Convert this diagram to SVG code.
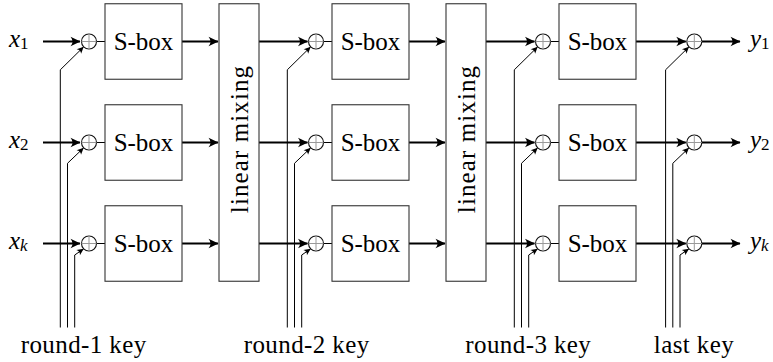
<svg xmlns="http://www.w3.org/2000/svg" width="773" height="362" viewBox="0 0 773 362">
<style>
  .box { fill: #fff; stroke: #333; stroke-width: 1.1; }
  .xor { fill: #fff; stroke: #111; stroke-width: 1.1; }
  .plus { stroke: #999; stroke-width: 1; }
  .thick { fill: none; stroke: #000; stroke-width: 1.9; }
  .thin { fill: none; stroke: #000; stroke-width: 1; }
</style>
<defs>
  <marker id="ah" markerUnits="userSpaceOnUse" markerWidth="14" markerHeight="12" viewBox="-11 -6 14 12" refX="0" refY="0" orient="auto" overflow="visible">
    <path d="M0.5,0 L-9.5,-4.8 Q-5.5,0 -9.5,4.8 Z" fill="#000" stroke="none"/>
  </marker>
  <marker id="ahs" markerUnits="userSpaceOnUse" markerWidth="10" markerHeight="8" viewBox="-7 -4 10 8" refX="0" refY="0" orient="auto" overflow="visible">
    <path d="M0.3,0 L-6.5,-3.2 Q-3.8,0 -6.5,3.2 Z" fill="#000" stroke="none"/>
  </marker>
</defs>

<g id="connectors">
  <path class="thick" d="M43,41.5 H80" marker-end="url(#ah)"/>
  <path class="thick" d="M43,142.5 H80" marker-end="url(#ah)"/>
  <path class="thick" d="M43,243.5 H80" marker-end="url(#ah)"/>
  <path class="thin" d="M96.5,41.5 H105 M96.5,142.5 H105 M96.5,243.5 H105"/>
  <path class="thin" d="M323.5,41.5 H332 M323.5,142.5 H332 M323.5,243.5 H332"/>
  <path class="thin" d="M550.5,41.5 H559 M550.5,142.5 H559 M550.5,243.5 H559"/>
  <path class="thick" d="M182,41.5 H218" marker-end="url(#ah)"/>
  <path class="thick" d="M182,142.5 H218" marker-end="url(#ah)"/>
  <path class="thick" d="M182,243.5 H218" marker-end="url(#ah)"/>
  <path class="thick" d="M259,41.5 H307.5" marker-end="url(#ah)"/>
  <path class="thick" d="M259,142.5 H307.5" marker-end="url(#ah)"/>
  <path class="thick" d="M259,243.5 H307.5" marker-end="url(#ah)"/>
  <path class="thick" d="M409,41.5 H445" marker-end="url(#ah)"/>
  <path class="thick" d="M409,142.5 H445" marker-end="url(#ah)"/>
  <path class="thick" d="M409,243.5 H445" marker-end="url(#ah)"/>
  <path class="thick" d="M486,41.5 H534.5" marker-end="url(#ah)"/>
  <path class="thick" d="M486,142.5 H534.5" marker-end="url(#ah)"/>
  <path class="thick" d="M486,243.5 H534.5" marker-end="url(#ah)"/>
  <path class="thick" d="M636,41.5 H685.8" marker-end="url(#ah)"/>
  <path class="thick" d="M636,142.5 H685.8" marker-end="url(#ah)"/>
  <path class="thick" d="M636,243.5 H685.8" marker-end="url(#ah)"/>
  <path class="thick" d="M701.8,41.5 H740" marker-end="url(#ah)"/>
  <path class="thick" d="M701.8,142.5 H740" marker-end="url(#ah)"/>
  <path class="thick" d="M701.8,243.5 H740" marker-end="url(#ah)"/>

  <path class="thin" d="M60.3,327.5 V69.8 L83.5,47" marker-end="url(#ahs)"/>
  <path class="thin" d="M67.5,327.5 V163.3 L83.5,148" marker-end="url(#ahs)"/>
  <path class="thin" d="M74.7,327.5 V255 L83.5,249" marker-end="url(#ahs)"/>
  <path class="thin" d="M287.3,327.5 V69.8 L310.5,47" marker-end="url(#ahs)"/>
  <path class="thin" d="M294.5,327.5 V163.3 L310.5,148" marker-end="url(#ahs)"/>
  <path class="thin" d="M301.7,327.5 V255 L310.5,249" marker-end="url(#ahs)"/>
  <path class="thin" d="M514.3,327.5 V69.8 L537.5,47" marker-end="url(#ahs)"/>
  <path class="thin" d="M521.5,327.5 V163.3 L537.5,148" marker-end="url(#ahs)"/>
  <path class="thin" d="M528.7,327.5 V255 L537.5,249" marker-end="url(#ahs)"/>
  <path class="thin" d="M665.6,327.5 V69.8 L688.8,47" marker-end="url(#ahs)"/>
  <path class="thin" d="M672.8,327.5 V163.3 L688.8,148" marker-end="url(#ahs)"/>
  <path class="thin" d="M680,327.5 V255 L688.8,249" marker-end="url(#ahs)"/>
</g>

<g id="xor-c1">
  <circle class="xor" cx="89" cy="41.5" r="7.5"/><path class="plus" d="M81.5,41.5 H96.5 M89,34 V49"/>
  <circle class="xor" cx="89" cy="142.5" r="7.5"/><path class="plus" d="M81.5,142.5 H96.5 M89,135 V150"/>
  <circle class="xor" cx="89" cy="243.5" r="7.5"/><path class="plus" d="M81.5,243.5 H96.5 M89,236 V251"/>
</g>
<g id="xor-c2">
  <circle class="xor" cx="316" cy="41.5" r="7.5"/><path class="plus" d="M308.5,41.5 H323.5 M316,34 V49"/>
  <circle class="xor" cx="316" cy="142.5" r="7.5"/><path class="plus" d="M308.5,142.5 H323.5 M316,135 V150"/>
  <circle class="xor" cx="316" cy="243.5" r="7.5"/><path class="plus" d="M308.5,243.5 H323.5 M316,236 V251"/>
</g>
<g id="xor-c3">
  <circle class="xor" cx="543" cy="41.5" r="7.5"/><path class="plus" d="M535.5,41.5 H550.5 M543,34 V49"/>
  <circle class="xor" cx="543" cy="142.5" r="7.5"/><path class="plus" d="M535.5,142.5 H550.5 M543,135 V150"/>
  <circle class="xor" cx="543" cy="243.5" r="7.5"/><path class="plus" d="M535.5,243.5 H550.5 M543,236 V251"/>
</g>
<g id="xor-last">
  <circle class="xor" cx="694.3" cy="41.5" r="7.5"/><path class="plus" d="M686.8,41.5 H701.8 M694.3,34 V49"/>
  <circle class="xor" cx="694.3" cy="142.5" r="7.5"/><path class="plus" d="M686.8,142.5 H701.8 M694.3,135 V150"/>
  <circle class="xor" cx="694.3" cy="243.5" r="7.5"/><path class="plus" d="M686.8,243.5 H701.8 M694.3,236 V251"/>
</g>

<g id="sbox-1-1"><rect class="box" x="105" y="3.75" width="77" height="75.5"/><text font-family="serif" font-size="25" x="143.5" y="50" text-anchor="middle">S-box</text></g>
<g id="sbox-1-2"><rect class="box" x="105" y="104.75" width="77" height="75.5"/><text font-family="serif" font-size="25" x="143.5" y="151" text-anchor="middle">S-box</text></g>
<g id="sbox-1-3"><rect class="box" x="105" y="205.75" width="77" height="75.5"/><text font-family="serif" font-size="25" x="143.5" y="252" text-anchor="middle">S-box</text></g>

<g id="mix-1"><rect class="box" x="219" y="3.75" width="40" height="277.5"/><text font-family="serif" font-size="25" letter-spacing="1.1" transform="translate(248,139) rotate(-90)" text-anchor="middle">linear mixing</text></g>

<g id="sbox-2-1"><rect class="box" x="332" y="3.75" width="77" height="75.5"/><text font-family="serif" font-size="25" x="370.5" y="50" text-anchor="middle">S-box</text></g>
<g id="sbox-2-2"><rect class="box" x="332" y="104.75" width="77" height="75.5"/><text font-family="serif" font-size="25" x="370.5" y="151" text-anchor="middle">S-box</text></g>
<g id="sbox-2-3"><rect class="box" x="332" y="205.75" width="77" height="75.5"/><text font-family="serif" font-size="25" x="370.5" y="252" text-anchor="middle">S-box</text></g>

<g id="mix-2"><rect class="box" x="446" y="3.75" width="40" height="277.5"/><text font-family="serif" font-size="25" letter-spacing="1.1" transform="translate(475,139) rotate(-90)" text-anchor="middle">linear mixing</text></g>

<g id="sbox-3-1"><rect class="box" x="559" y="3.75" width="77" height="75.5"/><text font-family="serif" font-size="25" x="597.5" y="50" text-anchor="middle">S-box</text></g>
<g id="sbox-3-2"><rect class="box" x="559" y="104.75" width="77" height="75.5"/><text font-family="serif" font-size="25" x="597.5" y="151" text-anchor="middle">S-box</text></g>
<g id="sbox-3-3"><rect class="box" x="559" y="205.75" width="77" height="75.5"/><text font-family="serif" font-size="25" x="597.5" y="252" text-anchor="middle">S-box</text></g>

<g id="inputs">
  <text font-family="serif" font-size="25" font-style="italic" x="9" y="47">x<tspan font-size="17" font-style="normal" dy="2">1</tspan></text>
  <text font-family="serif" font-size="25" font-style="italic" x="9" y="148">x<tspan font-size="17" font-style="normal" dy="2">2</tspan></text>
  <text font-family="serif" font-size="25" font-style="italic" x="9" y="249">x<tspan font-size="17" dy="2">k</tspan></text>
</g>
<g id="outputs">
  <text font-family="serif" font-size="25" font-style="italic" x="750" y="47">y<tspan font-size="17" font-style="normal" dy="2">1</tspan></text>
  <text font-family="serif" font-size="25" font-style="italic" x="750" y="148">y<tspan font-size="17" font-style="normal" dy="2">2</tspan></text>
  <text font-family="serif" font-size="25" font-style="italic" x="750" y="249">y<tspan font-size="17" dy="2">k</tspan></text>
</g>

<g id="key-labels">
  <text font-family="serif" font-size="25" letter-spacing="0.4" x="83.7" y="353" text-anchor="middle">round-1 key</text>
  <text font-family="serif" font-size="25" letter-spacing="0.4" x="306.7" y="353" text-anchor="middle">round-2 key</text>
  <text font-family="serif" font-size="25" letter-spacing="0.4" x="528.3" y="353" text-anchor="middle">round-3 key</text>
  <text font-family="serif" font-size="25" letter-spacing="0.4" x="694" y="353" text-anchor="middle">last key</text>
</g>
</svg>
